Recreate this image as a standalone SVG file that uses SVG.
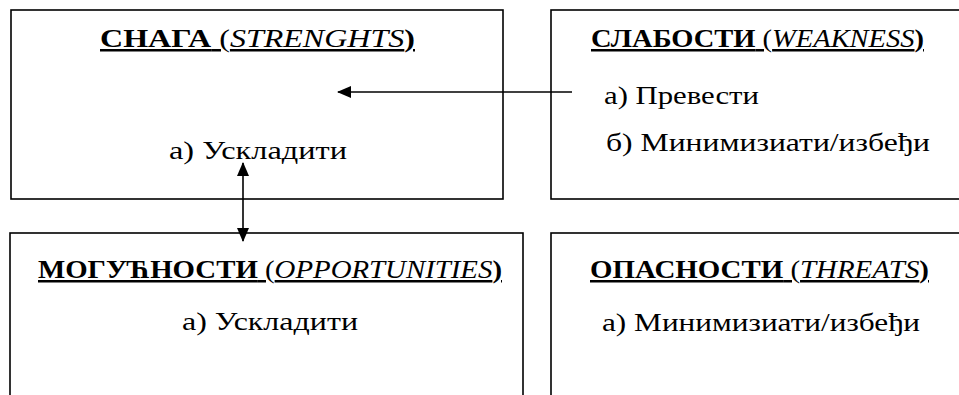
<svg xmlns="http://www.w3.org/2000/svg" width="959" height="395" viewBox="0 0 959 395">
<defs>
<style>
.box{fill:#fff;stroke:#000;stroke-width:1.6}
text{font-family:"Liberation Serif","Times New Roman",serif;font-size:25px;fill:#000}
.t{text-decoration:underline}
.b{font-weight:bold}
.i{font-style:italic}
.c{stroke:#000;stroke-width:1.6;fill:none}
</style>
<marker id="ah" viewBox="0 0 14 12" refX="13" refY="6" markerWidth="14" markerHeight="12" markerUnits="userSpaceOnUse" orient="auto-start-reverse">
<path d="M0,0 L14,6 L0,12 Z" fill="#000"/>
</marker>
</defs>
<rect width="959" height="395" fill="#fff"/>
<g id="strengths">
<rect class="box" x="11" y="10" width="492" height="189"/>
<text class="t" x="100" y="47" textLength="315" lengthAdjust="spacingAndGlyphs"><tspan class="b">СНАГА</tspan> (<tspan class="i">STRENGHTS</tspan><tspan class="b">)</tspan></text>
<text x="169" y="159" textLength="178" lengthAdjust="spacingAndGlyphs">а) Ускладити</text>
</g>
<g id="weakness">
<rect class="box" x="551" y="10" width="420" height="189"/>
<text class="t" x="591" y="47" textLength="333" lengthAdjust="spacingAndGlyphs"><tspan class="b">СЛАБОСТИ</tspan> (<tspan class="i">WEAKNESS</tspan><tspan class="b">)</tspan></text>
<text x="604" y="104" textLength="155" lengthAdjust="spacingAndGlyphs">а) Превести</text>
<text x="606" y="151" textLength="324" lengthAdjust="spacingAndGlyphs">б) Минимизиати/избеђи</text>
</g>
<g id="opportunities">
<rect class="box" x="10" y="233" width="513" height="200"/>
<text class="t" x="38" y="278" textLength="464" lengthAdjust="spacingAndGlyphs"><tspan class="b">МОГУЋНОСТИ</tspan> (<tspan class="i">OPPORTUNITIES</tspan><tspan class="b">)</tspan></text>
<text x="182" y="330" textLength="176" lengthAdjust="spacingAndGlyphs">а) Ускладити</text>
</g>
<g id="threats">
<rect class="box" x="551" y="233" width="420" height="200"/>
<text class="t" x="590" y="278" textLength="339" lengthAdjust="spacingAndGlyphs"><tspan class="b">ОПАСНОСТИ</tspan> (<tspan class="i">THREATS</tspan><tspan class="b">)</tspan></text>
<text x="602" y="331" textLength="318" lengthAdjust="spacingAndGlyphs">а) Минимизиати/избеђи</text>
</g>
<g id="connectors">
<line class="c" x1="572" y1="92" x2="338" y2="92" marker-end="url(#ah)"/>
<line class="c" x1="243" y1="163" x2="243" y2="241" marker-start="url(#ah)" marker-end="url(#ah)"/>
</g>
</svg>
